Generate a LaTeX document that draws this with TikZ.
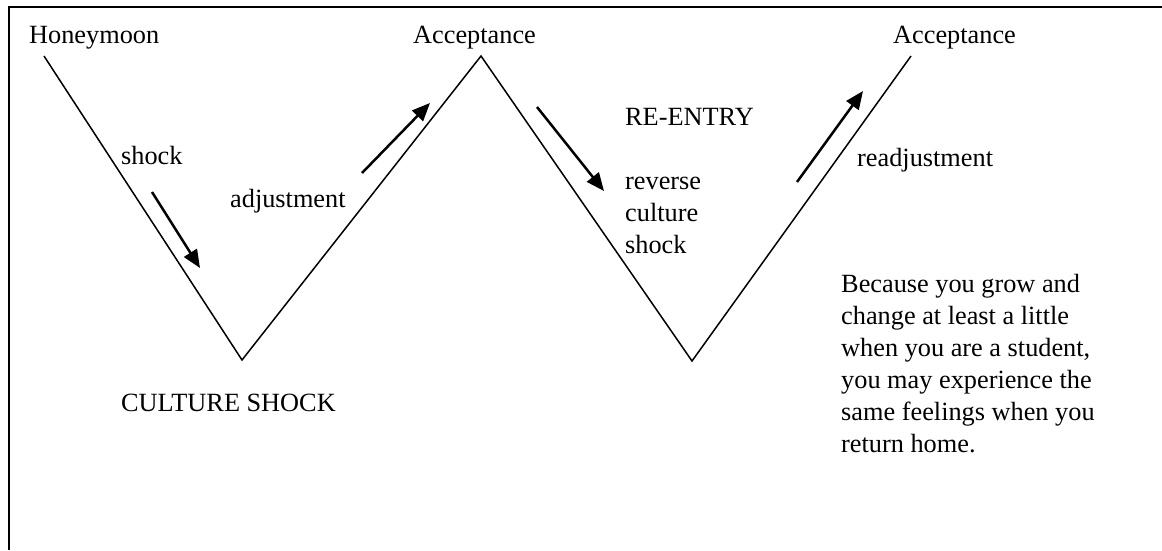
\documentclass[tikz,border=0pt]{standalone}
\usepackage{fontspec}
\setmainfont{Liberation Serif}
\usetikzlibrary{arrows.meta}
\begin{document}
\begin{tikzpicture}[x=1pt,y=-1pt,
  lbl/.style={anchor=base west,inner sep=0pt,font=\fontsize{26.3}{31}\selectfont},
  curve/.style={line width=1.5pt,line join=miter},
  move/.style={line width=2.5pt,-{Triangle[length=18pt,width=15pt]}},
  frame/.style={line width=2pt}]
\useasboundingbox (0,0) rectangle (1162,550);
% frame (open on right and bottom, as cropped)
\coordinate (f1) at (9,550);
\coordinate (f2) at (9,7);
\coordinate (f3) at (1162,7);
\draw[frame] (f1) -- (f2) -- (f3);
% W curve
\coordinate (p0) at (44,56);
\coordinate (v1) at (242,360);
\coordinate (p1) at (481,56);
\coordinate (v2) at (692,361);
\coordinate (p2) at (911,56);
\draw[curve] (p0) -- (v1) -- (p1) -- (v2) -- (p2);
% labels
\node[lbl] (honey) at (29,43) {Honeymoon};
\node[lbl] (acc1) at (413,43) {Acceptance};
\node[lbl] (acc2) at (893,43) {Acceptance};
\node[lbl] (shock) at (121,164) {shock};
\node[lbl] (adj) at (230,207) {adjustment};
\node[lbl] (reentry) at (625,125) {RE-ENTRY};
\node[lbl] (rev1) at (625,189) {reverse};
\node[lbl] (rev2) at (625,221) {culture};
\node[lbl] (rev3) at (625,253) {shock};
\node[lbl] (readj) at (857,166) {readjustment};
\node[lbl] (cs) at (121,411) {CULTURE SHOCK};
\node[lbl] (t1) at (841,292) {Because you grow and};
\node[lbl] (t2) at (841,324) {change at least a little};
\node[lbl] (t3) at (841,356) {when you are a student,};
\node[lbl] (t4) at (841,388) {you may experience the};
\node[lbl] (t5) at (841,420) {same feelings when you};
\node[lbl] (t6) at (841,452) {return home.};
% arrows
\coordinate (a1s) at (152,192); \coordinate (a1e) at (200,268);
\coordinate (a2s) at (362,173); \coordinate (a2e) at (430,103);
\coordinate (a3s) at (537,107); \coordinate (a3e) at (604,191);
\coordinate (a4s) at (797,182); \coordinate (a4e) at (863,91);
\draw[move] (a1s) -- (a1e);
\draw[move] (a2s) -- (a2e);
\draw[move] (a3s) -- (a3e);
\draw[move] (a4s) -- (a4e);
\end{tikzpicture}
\end{document}
